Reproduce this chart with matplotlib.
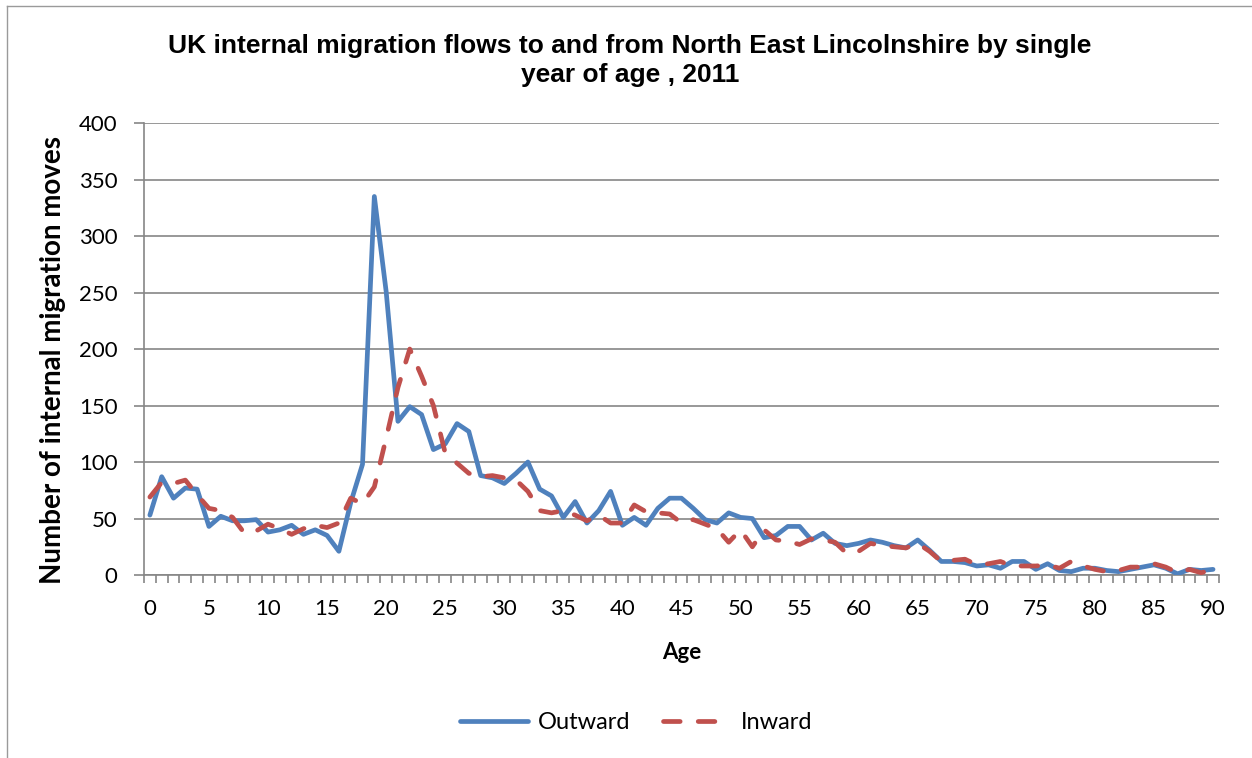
"""
    Internal migration flows by single year of age
"""

from matplotlib import pyplot as plt
from matplotlib.lines import Line2D
import numpy as np

plt.rcParams['font.family'] = ['Lato', 'DejaVu Sans']
plt.rcParams['lines.scale_dashes'] = False

ages = list(range(0, 91))

outward = [53, 87, 68, 77, 76, 43, 52, 48, 48, 49,
           38, 40, 44, 36, 40, 35, 21, 64, 98, 335,
           251, 136, 149, 142, 111, 116, 134, 127, 88, 86,
           81, 90, 100, 76, 70, 51, 65, 46, 57, 74,
           44, 51, 44, 59, 68, 68, 59, 49, 46, 55,
           51, 50, 33, 35, 43, 43, 31, 37, 28, 26,
           28, 31, 29, 26, 24, 31, 22, 12, 12, 11,
           8, 9, 6, 12, 12, 5, 10, 4, 3, 6,
           6, 4, 3, 5, 7, 9, 6, 1, 5, 4,
           5]

inward = [69, 82, 81, 84, 71, 59, 57, 51, 37, 39,
          45, 41, 36, 41, 44, 42, 46, 68, 63, 78,
          121, 166, 200, 176, 150, 108, 99, 90, 87, 88,
          86, 84, 74, 57, 55, 57, 53, 48, 53, 46,
          46, 62, 56, 55, 54, 46, 49, 45, 41, 29,
          40, 25, 40, 31, 30, 27, 32, 31, 29, 19,
          21, 28, 26, 25, 24, 28, 21, 12, 13, 14,
          9, 10, 12, 8, 8, 8, 9, 6, 12, 8,
          5, 3, 4, 7, 7, 10, 7, 2, 5, 2,
          5]

BLUE = "#4F81BD"
RED = "#C0504D"
GREY = "#868686"


def draw_fig():
    fig = plt.figure(figsize=(12.52, 7.58), dpi=100)
    ax = fig.add_axes([0.1150, 0.2414, 0.8586, 0.5963])

    ax.plot(ages, outward, color=BLUE, lw=3.4, solid_joinstyle="round",
            solid_capstyle="round", label="Outward", zorder=3)
    ax.plot(ages, inward, color=RED, lw=3.4, dashes=(12, 13),
            dash_capstyle="round", label="Inward", zorder=4)

    ax.set_xlim(-0.5, 90.5)
    ax.set_ylim(0, 400)

    # category boundaries get the tick marks, every fifth age gets a label
    ax.set_xticks(np.arange(-0.5, 91, 1))
    ax.set_xticklabels([])
    ax.set_xticks(ages[::5], minor=True)
    ax.set_xticklabels([str(a) for a in ages[::5]], minor=True)
    ax.tick_params(axis="x", which="major", direction="out", length=6,
                   width=1.2, color=GREY)
    ax.tick_params(axis="x", which="minor", length=0, pad=17, labelsize=16)

    ax.set_yticks(np.arange(0, 401, 50))
    ax.tick_params(axis="y", direction="out", length=7, width=1.2,
                   color=GREY, pad=12, labelsize=16)

    ax.grid(axis="y", color=GREY, lw=1.2)
    ax.set_axisbelow(True)
    for side in ["top", "right"]:
        ax.spines[side].set_visible(False)
    for side in ["left", "bottom"]:
        ax.spines[side].set_color(GREY)
        ax.spines[side].set_linewidth(1.2)

    ax.set_xlabel("Age", fontsize=16, fontweight="bold", labelpad=17)
    ax.set_ylabel("Number of internal migration moves", fontsize=20,
                  fontweight="bold", va="center")
    ax.yaxis.set_label_coords(-0.085, 0.476)

    title_font = dict(ha="center", va="center", fontsize=19,
                      fontweight="bold", family="Liberation Sans")
    fig.text(0.503, 1 - 46 / 758,
             "UK internal migration flows to and from North East Lincolnshire by single",
             **title_font)
    fig.text(0.503, 1 - 75 / 758, "year of age , 2011", **title_font)

    fig.legend(loc="center", bbox_to_anchor=(0.508, 0.047), ncol=2,
               frameon=False, fontsize=17, handlelength=2.9,
               columnspacing=1.4, handletextpad=0.4)

    # chart area frame
    fig.add_artist(Line2D([7 / 1252, 1], [1 - 6 / 758, 1 - 6 / 758],
                          color="#9A9A9A", lw=1.0))
    fig.add_artist(Line2D([7 / 1252, 7 / 1252], [0, 1 - 6 / 758],
                          color="#9A9A9A", lw=1.0))

    plt.savefig("out.png", dpi=100)


if __name__ == "__main__":
    draw_fig()
